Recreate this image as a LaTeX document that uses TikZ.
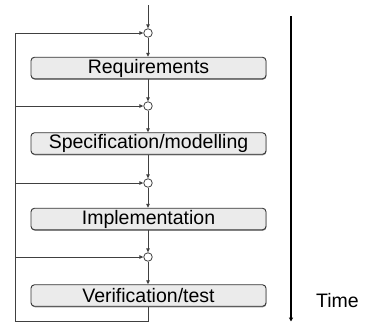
\documentclass[tikz,border=0pt]{standalone}
\usepackage{fontspec}
\setmainfont{Liberation Sans}
\usetikzlibrary{arrows.meta,shadows}
\begin{document}
\begin{tikzpicture}[x=1pt,y=-1pt,
  link/.style={draw=black!75, line width=0.8pt, -{Triangle[length=4pt,width=3.5pt]}},
  plain/.style={draw=black!75, line width=0.8pt},
  junction/.style={circle, draw=black!75, fill=white, line width=0.8pt, minimum size=8.5pt, inner sep=0pt},
  phase/.style={rectangle, rounded corners=3.5pt, draw=black!80, line width=0.9pt,
    fill=black!8, minimum width=235pt, minimum height=21.5pt, inner sep=0pt,
    font=\fontsize{19.5}{22}\selectfont,
    drop shadow={shadow xshift=0.4pt, shadow yshift=-1pt, fill=black!45, opacity=1}},
  timeline/.style={draw=black, line width=1.5pt, -{Triangle[length=4pt,width=4pt]}}
]
\useasboundingbox (0,0) rectangle (366,322);

% junction points
\node[junction] (c1) at (148,33) {};
\node[junction] (c2) at (148,106) {};
\node[junction] (c3) at (148,183) {};
\node[junction] (c4) at (148,257) {};

% phases
\node[phase] (req)  at (148.5,68)    {Requirements};
\node[phase] (spec) at (148.5,143.5) {Specification/modelling};
\node[phase] (impl) at (148.5,219)   {Implementation};
\node[phase] (ver)  at (148.5,295.5) {Verification/test};

% entry and forward flow
\coordinate (entry) at (148,5);
\draw[link] (entry) -- (c1);
\draw[link] (c1) -- (c1 |- req.north);
\draw[link] (c1 |- req.south) -- (c2);
\draw[link] (c2) -- (c2 |- spec.north);
\draw[link] (c2 |- spec.south) -- (c3);
\draw[link] (c3) -- (c3 |- impl.north);
\draw[link] (c3 |- impl.south) -- (c4);
\draw[link] (c4) -- (c4 |- ver.north);

% feedback loop
\coordinate (fbbot) at (148,321);
\coordinate (fbl) at (15,321);
\draw[link] (c4 |- ver.south) -- (fbbot) -- (fbl) |- (c1);
\draw[link] (fbl |- c2) -- (c2);
\draw[link] (fbl |- c3) -- (c3);
\draw[link] (fbl |- c4) -- (c4);

% time axis
\coordinate (t0) at (291,16);
\coordinate (t1) at (291,321.5);
\draw[timeline] (t0) -- (t1);
\node[anchor=base west, inner sep=0pt, font=\fontsize{19.5}{22}\selectfont] (time) at (316,307) {Time};
\end{tikzpicture}
\end{document}
